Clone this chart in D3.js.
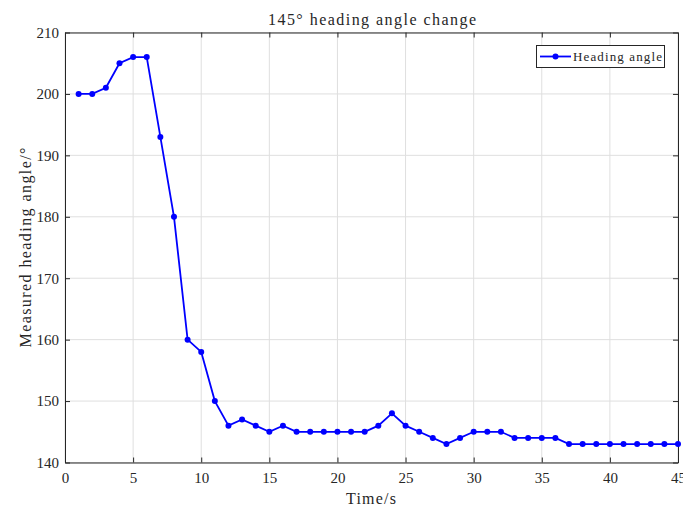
<!DOCTYPE html>
<html lang="en">
<head>
<meta charset="UTF-8">
<script src="https://d3js.org/d3.v7.min.js"></script>
<style>
  body { margin: 0; background: #fff; }
  text { font-family: "Liberation Serif", serif; fill: #262626; }
</style>
</head>
<body>
<div id="chart"></div>
<script>
// time in seconds and the measured heading
const times = d3.range(1, 46);
const heading = [200, 200, 201, 205, 206, 206, 193, 180, 160, 158,
                 150, 146, 147, 146, 145, 146, 145, 145, 145, 145,
                 145, 145, 146, 148, 146, 145, 144, 143, 144, 145,
                 145, 145, 144, 144, 144, 144, 143, 143, 143, 143,
                 143, 143, 143, 143, 143];
const xTicks = [0, 5, 10, 15, 20, 25, 30, 35, 40, 45];
const yTicks = [140, 150, 160, 170, 180, 190, 200, 210];

const w = 683, h = 509;
const m = {left: 65, right: 5, top: 32.5, bottom: 46.5};

const svg = d3.select("#chart").append("svg")
  .attr("width", w).attr("height", h);

const x = d3.scaleLinear().domain([0, 45]).range([m.left, w - m.right]);
const y = d3.scaleLinear().domain([140, 210]).range([h - m.bottom, m.top]);

// grid
svg.append("g").selectAll("line").data(xTicks).join("line")
  .attr("x1", d => x(d)).attr("x2", d => x(d))
  .attr("y1", y(140)).attr("y2", y(210))
  .attr("stroke", "#dfdfdf").attr("stroke-width", 1);
svg.append("g").selectAll("line").data(yTicks).join("line")
  .attr("x1", x(0)).attr("x2", x(45))
  .attr("y1", d => y(d)).attr("y2", d => y(d))
  .attr("stroke", "#dfdfdf").attr("stroke-width", 1);

// axes, ticks pointing inward
const ax = "#262626";
const xAxis = svg.append("g").attr("transform", "translate(0," + y(140) + ")")
  .call(d3.axisBottom(x).tickValues(xTicks).tickSizeInner(-5).tickSizeOuter(0).tickPadding(10));
const xTop = svg.append("g").attr("transform", "translate(0," + y(210) + ")")
  .call(d3.axisTop(x).tickValues(xTicks).tickSizeInner(-5).tickSizeOuter(0).tickFormat(""));
const yAxis = svg.append("g").attr("transform", "translate(" + x(0) + ",0)")
  .call(d3.axisLeft(y).tickValues(yTicks).tickSizeInner(-5).tickSizeOuter(0).tickPadding(6));
const yRight = svg.append("g").attr("transform", "translate(" + x(45) + ",0)")
  .call(d3.axisRight(y).tickValues(yTicks).tickSizeInner(-5).tickSizeOuter(0).tickFormat(""));

[xAxis, xTop, yAxis, yRight].forEach(g => {
  g.select(".domain").attr("stroke", ax).attr("stroke-width", 1);
  g.selectAll(".tick line").attr("stroke", ax);
  g.selectAll(".tick text").attr("fill", ax)
    .style("font-family", "Liberation Serif, serif").style("font-size", "15px");
});

// data line
const line = d3.line().x((d, i) => x(times[i])).y(d => y(d));
svg.append("path").datum(heading)
  .attr("d", line).attr("fill", "none")
  .attr("stroke", "#0000ff").attr("stroke-width", 1.8);
svg.append("g").selectAll("circle").data(heading).join("circle")
  .attr("cx", (d, i) => x(times[i])).attr("cy", d => y(d))
  .attr("r", 3).attr("fill", "#0000ff");

// title and labels (wide, SimSun-like spacing)
svg.append("text").attr("x", 372).attr("y", 25)
  .attr("text-anchor", "middle").style("font-size", "16px")
  .attr("textLength", 208).attr("lengthAdjust", "spacing")
  .text("145° heading angle change");
svg.append("text").attr("x", 371).attr("y", 504)
  .attr("text-anchor", "middle").style("font-size", "16px")
  .attr("textLength", 50).attr("lengthAdjust", "spacing")
  .text("Time/s");
svg.append("text")
  .attr("transform", "translate(31," + ((y(140) + y(210)) / 2) + ") rotate(-90)")
  .attr("text-anchor", "middle").style("font-size", "16px")
  .attr("textLength", 200).attr("lengthAdjust", "spacing")
  .text("Measured heading angle/°");

// legend
const lg = svg.append("g");
lg.append("rect").attr("x", 536.5).attr("y", 45.5).attr("width", 128).attr("height", 22)
  .attr("fill", "#fff").attr("stroke", ax).attr("stroke-width", 1);
lg.append("line").attr("x1", 540).attr("x2", 571).attr("y1", 56.5).attr("y2", 56.5)
  .attr("stroke", "#0000ff").attr("stroke-width", 1.8);
lg.append("circle").attr("cx", 555.5).attr("cy", 56.5).attr("r", 3).attr("fill", "#0000ff");
lg.append("text").attr("x", 573).attr("y", 61).style("font-size", "13px")
  .attr("textLength", 89).attr("lengthAdjust", "spacing")
  .text("Heading angle");
</script>
</body>
</html>
